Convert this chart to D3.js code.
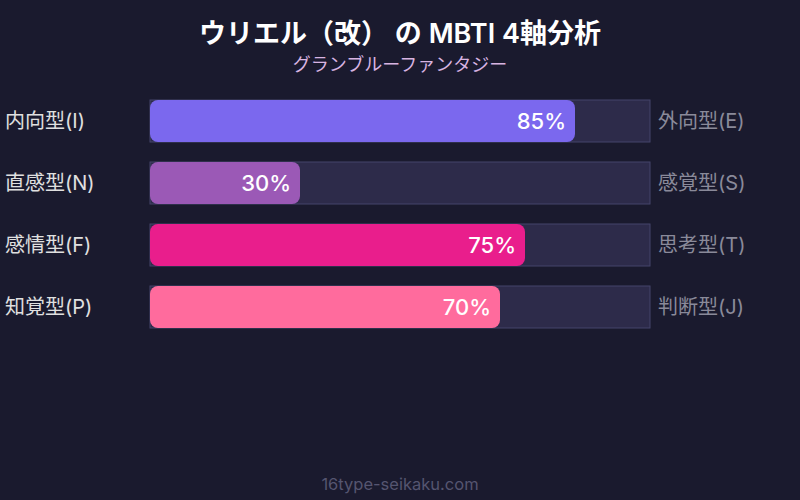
<!DOCTYPE html>
<html><head><meta charset="utf-8">
<script src="https://cdn.jsdelivr.net/npm/d3@7"></script>
<style>body{margin:0;background:#1a1a2e;}svg{display:block;font-family:Inter,"Noto Sans CJK JP",sans-serif;}</style>
</head><body><svg id="c" width="800" height="500"></svg>
<script>
const leftLabels = ["内向型(I)","直感型(N)","感情型(F)","知覚型(P)"];
const rightLabels = ["外向型(E)","感覚型(S)","思考型(T)","判断型(J)"];
const values = [85,30,75,70];
const colors = ["#7b68ee","#9b59b6","#e91e8c","#ff6b9d"];
const title = "ウリエル（改） の MBTI 4軸分析";
const subtitle = "グランブルーファンタジー";
const footer = "16type-seikaku.com";

const svg = d3.select("#c");
svg.append("rect").attr("width",800).attr("height",500).attr("fill","#1a1a2e");
const x = d3.scaleLinear().domain([0,100]).range([150,650]);
const rowY = d3.scaleLinear().domain([0,1]).range([100,162]);
const bh = 42;
svg.append("text").attr("x",400).attr("y",43).attr("text-anchor","middle").attr("fill","#ffffff").attr("font-size",27).attr("font-weight",600).text(title);
svg.append("text").attr("x",400).attr("y",71).attr("text-anchor","middle").attr("fill","#d8b4e2").attr("font-size",18).text(subtitle);
const g = svg.selectAll("g.row").data(values).enter().append("g").attr("class","row");
g.append("rect").attr("x",x(0)).attr("y",(d,i)=>rowY(i)).attr("width",x(100)-x(0)).attr("height",bh).attr("fill","#2d2b4a").attr("stroke","#44446a").attr("stroke-width",1);
g.append("rect").attr("x",x(0)).attr("y",(d,i)=>rowY(i)).attr("width",d=>x(d)-x(0)).attr("height",bh).attr("rx",8).attr("fill",(d,i)=>colors[i]);
g.append("text").attr("x",d=>x(d)-9).attr("y",(d,i)=>rowY(i)+bh/2).attr("dy","0.36em").attr("text-anchor","end").attr("fill","#ffffff").attr("font-size",22).attr("font-weight",500).text(d=>d+"%");
g.append("text").attr("x",5).attr("y",(d,i)=>rowY(i)+bh/2).attr("dy","0.34em").attr("fill","#e0e0e0").attr("font-size",20).text((d,i)=>leftLabels[i]);
g.append("text").attr("x",658).attr("y",(d,i)=>rowY(i)+bh/2).attr("dy","0.34em").attr("fill","#8a8a9a").attr("font-size",20).text((d,i)=>rightLabels[i]);
svg.append("text").attr("x",400).attr("y",490).attr("text-anchor","middle").attr("fill","#555570").attr("font-size",16.5).text(footer);
</script></body></html>
